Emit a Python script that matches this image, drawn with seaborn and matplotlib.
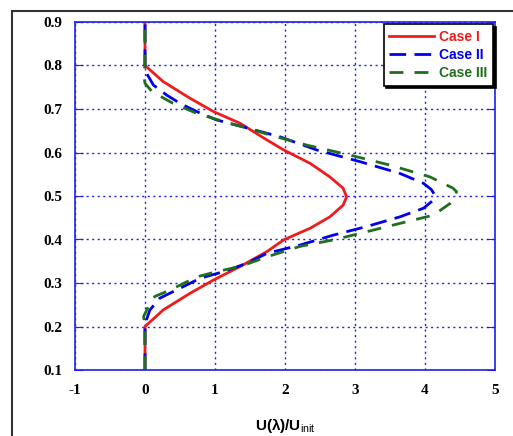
import matplotlib
matplotlib.use("Agg")
import matplotlib.pyplot as plt
import seaborn as sns
import pandas as pd
from matplotlib.patches import Rectangle

# ---- data ----
y1 = [0.10, 0.20, 0.238, 0.276, 0.307, 0.338, 0.372, 0.399, 0.426, 0.452, 0.479,
      0.498, 0.518, 0.544, 0.575, 0.606, 0.629, 0.667, 0.694, 0.725, 0.763, 0.80, 0.90]
x1 = [0.0, 0.0, 0.26, 0.64, 0.98, 1.36, 1.74, 1.98, 2.36, 2.64, 2.83,
      2.88, 2.83, 2.64, 2.36, 1.98, 1.74, 1.36, 0.98, 0.64, 0.26, 0.0, 0.0]

y2 = [0.10, 0.20, 0.215, 0.238, 0.265, 0.284, 0.311, 0.326, 0.345, 0.368, 0.387,
      0.41, 0.43, 0.452, 0.472, 0.488, 0.502, 0.515, 0.529, 0.552, 0.579, 0.606,
      0.636, 0.659, 0.675, 0.694, 0.713, 0.732, 0.755, 0.78, 0.80, 0.90]
x2 = [0.0, 0.0, 0.02, 0.07, 0.21, 0.45, 0.79, 1.12, 1.45, 1.74, 2.21,
      2.69, 3.17, 3.64, 3.98, 4.10, 4.14, 4.09, 3.98, 3.64, 3.07, 2.45,
      1.93, 1.40, 1.02, 0.74, 0.50, 0.31, 0.12, 0.03, 0.0, 0.0]

y3 = [0.10, 0.20, 0.223, 0.253, 0.269, 0.284, 0.314, 0.326, 0.338, 0.36, 0.384,
      0.399, 0.418, 0.437, 0.456, 0.483, 0.497, 0.51, 0.518, 0.544, 0.571, 0.594,
      0.617, 0.64, 0.652, 0.667, 0.69, 0.713, 0.74, 0.759, 0.778, 0.80, 0.90]
x3 = [0.0, 0.0, -0.02, 0.07, 0.14, 0.36, 0.74, 1.02, 1.36, 1.74, 2.21,
      2.69, 3.17, 3.64, 4.12, 4.36, 4.43, 4.45, 4.40, 4.07, 3.50, 2.93,
      2.31, 1.79, 1.55, 1.21, 0.74, 0.40, 0.10, 0.0, -0.02, 0.0, 0.0]

labels = ["Case I", "Case II", "Case III"]
colors = ["#ee1c1c", "#0000ee", "#1f6f1f"]
xticks = [-1, 0, 1, 2, 3, 4, 5]
yticks = [0.1, 0.2, 0.3, 0.4, 0.5, 0.6, 0.7, 0.8, 0.9]

plt.rcParams["mathtext.fontset"] = "custom"
plt.rcParams["mathtext.rm"] = "Liberation Sans"
plt.rcParams["mathtext.bf"] = "Liberation Sans:bold"

fig = plt.figure(figsize=(5.13, 4.36), dpi=100)
ax = fig.add_axes([75/513, 1-370/436, 420/513, 348/436])

styles = [None, (6, 3), (5, 4)]
for xs, ys, lab, col, dash in zip([x1, x2, x3], [y1, y2, y3], labels, colors, styles):
    df = pd.DataFrame({"x": xs, "y": ys})
    sns.lineplot(data=df, x="x", y="y", sort=False, estimator=None,
                 color=col, lw=2.0, label=lab, ax=ax)
    line = ax.lines[-1]
    line.set_solid_joinstyle("round")
    if dash is not None:
        line.set_dashes(dash)

ax.set_xlim(-1, 5)
ax.set_ylim(0.1, 0.9)
ax.set_xticks(xticks)
ax.set_yticks(yticks)
ax.set_xticklabels([str(t) for t in xticks], fontfamily="Liberation Serif",
                   fontweight="bold", fontsize=11)
ax.set_yticklabels([f"{t:.1f}" for t in yticks], fontfamily="Liberation Serif",
                   fontweight="bold", fontsize=11)
ax.grid(True, color="#2020ee", linestyle=(0, (1.5, 2.5)), linewidth=1.0)
for s in ax.spines.values():
    s.set_color("#2020ee")
    s.set_linewidth(1.2)
ax.tick_params(axis="x", length=0, pad=10)
ax.tick_params(axis="y", which="both", direction="in", length=6, color="#2020ee",
               left=True, right=True, pad=9)
ax.set_ylabel("")
ax.set_xlabel(r"$\mathbf{U(\lambda)/U}_{\mathrm{init}}$", fontsize=11, labelpad=14)

leg = ax.legend(loc="upper right", borderaxespad=0.15, frameon=True, fancybox=False,
                shadow={"color": "black", "alpha": 1.0}, handlelength=3.2,
                prop={"family": "Liberation Sans", "weight": "bold", "size": 10},
                labelspacing=0.3, borderpad=0.4, handletextpad=0.4)
leg.get_frame().set_edgecolor("black")
leg.get_frame().set_linewidth(1.2)
for txt, col in zip(leg.get_texts(), colors):
    txt.set_color(col)

# outer frame (cropped in reference)
fig.patches.append(Rectangle((12/513, -0.2), 1.2, 1.2 - 11/436,
                             transform=fig.transFigure, fill=False,
                             edgecolor="#333333", linewidth=1.5))

fig.savefig("out.png", dpi=100)
